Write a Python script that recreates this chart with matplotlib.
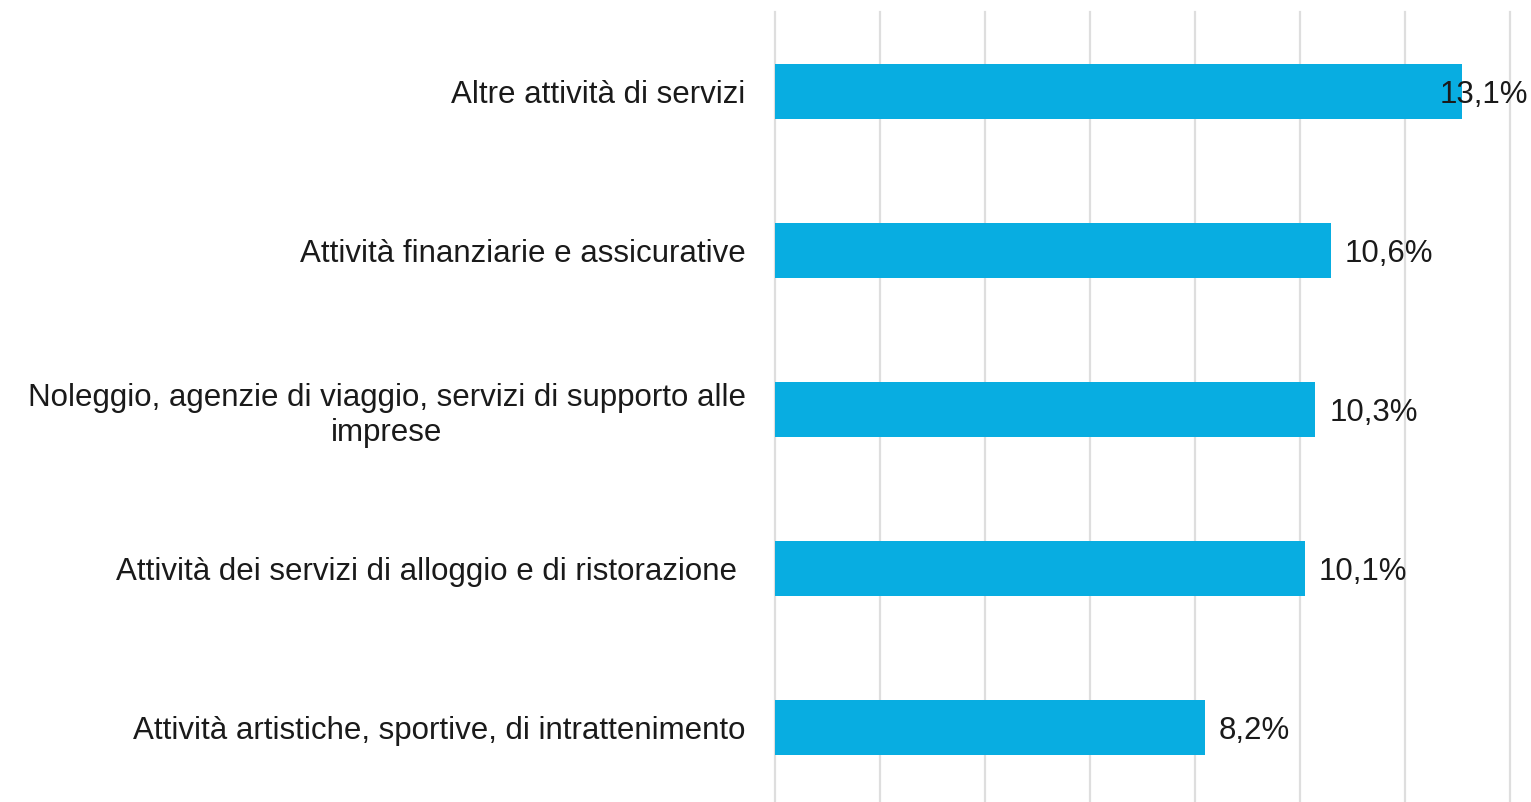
import matplotlib
matplotlib.use("Agg")
import matplotlib.pyplot as plt

categories = [
    "Altre attività di servizi",
    "Attività finanziarie e assicurative",
    "Noleggio, agenzie di viaggio, servizi di supporto alle\nimprese",
    "Attività dei servizi di alloggio e di ristorazione ",
    "Attività artistiche, sportive, di intrattenimento",
]
values = [13.1, 10.6, 10.3, 10.1, 8.2]
value_labels = ["13,1%", "10,6%", "10,3%", "10,1%", "8,2%"]
grid_ticks = [0, 2, 4, 6, 8, 10, 12, 14]

plt.rcParams['font.family'] = ['Liberation Sans', 'DejaVu Sans']
bar_color = '#08ADE1'
text_color = '#1a1a1a'
fsize = 22.5

fig = plt.figure(figsize=(15.31, 8.02), dpi=100)
ax = fig.add_axes([0.506, -0.006, 0.48, 0.991])

ypos = list(range(len(categories)))[::-1]
ax.barh(ypos, values, height=0.35, color=bar_color, zorder=2)

ax.set_xlim(0, 14)
ax.set_ylim(-0.5, 4.5)
ax.set_xticks(grid_ticks)
ax.tick_params(axis='x', length=0, labelbottom=False)
ax.tick_params(axis='y', length=0, pad=21)
ax.grid(axis='x', color='#dedede', linewidth=1.6, zorder=0)
for gl in ax.get_xgridlines():
    gl.set_clip_on(False)
for s in ax.spines.values():
    s.set_visible(False)

ax.set_yticks(ypos)
ax.set_yticklabels(categories, fontsize=fsize, color=text_color, ha='right', multialignment='center')

# value labels, right of the bar unless it would fall off the figure
fig.canvas.draw()
renderer = fig.canvas.get_renderer()
fig_w = fig.bbox.width
for y, v, lab in zip(ypos, values, value_labels):
    t = ax.annotate(lab, (v, y), xytext=(10, 0), textcoords='offset points',
                    va='center_baseline', ha='left', fontsize=fsize, color=text_color, zorder=3)
    bb = t.get_window_extent(renderer)
    if bb.x1 > fig_w - 2:
        t.remove()
        fig.text(0.998, ax.transData.transform((0, y))[1] / fig.bbox.height, lab,
                 va='center_baseline', ha='right', fontsize=fsize, color=text_color, zorder=3)

fig.savefig("out.png", dpi=100, facecolor='white')
